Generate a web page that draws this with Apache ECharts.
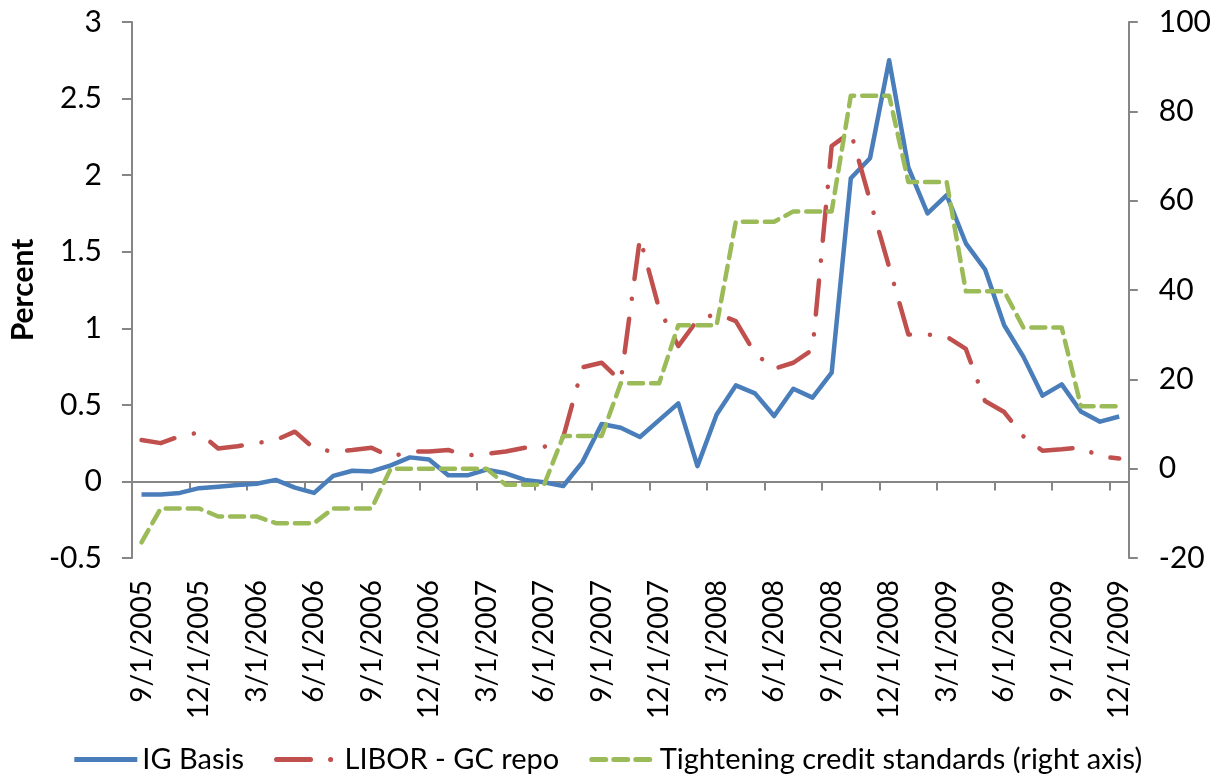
<!DOCTYPE html>
<html>
<head>
<meta charset="utf-8">
<script src="https://cdn.jsdelivr.net/npm/echarts@6/dist/echarts.min.js"></script>
<style>
  html, body { margin: 0; padding: 0; background: #fff; }
  #chart { width: 1214px; height: 776px; }
</style>
</head>
<body>
<div id="chart"></div>
<script>
// --- 数据 ---
const months = [
  '9/1/2005', '10/1/2005', '11/1/2005', '12/1/2005',
  '1/1/2006', '2/1/2006', '3/1/2006', '4/1/2006', '5/1/2006', '6/1/2006',
  '7/1/2006', '8/1/2006', '9/1/2006', '10/1/2006', '11/1/2006', '12/1/2006',
  '1/1/2007', '2/1/2007', '3/1/2007', '4/1/2007', '5/1/2007', '6/1/2007',
  '7/1/2007', '8/1/2007', '9/1/2007', '10/1/2007', '11/1/2007', '12/1/2007',
  '1/1/2008', '2/1/2008', '3/1/2008', '4/1/2008', '5/1/2008', '6/1/2008',
  '7/1/2008', '8/1/2008', '9/1/2008', '10/1/2008', '11/1/2008', '12/1/2008',
  '1/1/2009', '2/1/2009', '3/1/2009', '4/1/2009', '5/1/2009', '6/1/2009',
  '7/1/2009', '8/1/2009', '9/1/2009', '10/1/2009', '11/1/2009', '12/1/2009'
];

const igBasis = [
  -0.085, -0.085, -0.075, -0.044, -0.034, -0.024, -0.015, 0.01, -0.04, -0.075,
  0.036, 0.07, 0.065, 0.105, 0.157, 0.143, 0.04, 0.04, 0.077, 0.053,
  0.01, -0.005, -0.03, 0.126, 0.375, 0.35, 0.29, 0.40, 0.51, 0.10,
  0.437, 0.627, 0.575, 0.427, 0.605, 0.547, 0.71, 1.98, 2.11, 2.75,
  2.05, 1.75, 1.87, 1.555, 1.385, 1.02, 0.815, 0.56, 0.634, 0.457,
  0.39, 0.424
];

const liborGc = [
  0.27, 0.25, 0.295, 0.32, 0.215, 0.23, 0.25, 0.27, 0.325, 0.215,
  0.195, 0.205, 0.22, 0.16, 0.195, 0.195, 0.205, 0.17, 0.18, 0.195,
  0.22, 0.225, 0.29, 0.745, 0.775, 0.655, 1.59, 1.128, 0.884, 1.054,
  1.095, 1.047, 0.836, 0.736, 0.775, 0.86, 2.19, 2.28, 1.835, 1.40,
  0.96, 0.96, 0.945, 0.865, 0.525, 0.453, 0.295, 0.2, 0.21, 0.223,
  0.162, 0.15
];

const tightening = [
  -16.5, -8.9, -8.9, -8.9, -10.7, -10.7, -10.7, -12.2, -12.2, -12.2,
  -8.9, -8.9, -8.9, 0, 0, 0, 0, 0, 0, -3.6,
  -3.6, -3.6, 7.3, 7.3, 7.3, 19.1, 19.1, 19.1, 32.1, 32.1,
  32.1, 55.3, 55.3, 55.3, 57.6, 57.6, 57.6, 83.5, 83.5, 83.5,
  64.2, 64.2, 64.2, 39.7, 39.7, 39.7, 31.6, 31.6, 31.6, 14.0,
  14.0, 14.0
];

const seriesNames = ['IG Basis', 'LIBOR - GC repo', 'Tightening credit standards (right axis)'];

// --- 样式 ---
const C = { ig: '#4A7EBB', libor: '#C0504D', tight: '#9BBB59', axis: '#868686' };
const FONT = 'Lato, "Open Sans", sans-serif';
const axisLine = { show: true, lineStyle: { color: C.axis, width: 2 } };
const axisTick = { show: true, inside: false, length: 9, lineStyle: { color: C.axis, width: 2 } };
const labelStyle = { color: '#000', fontSize: 30, fontFamily: FONT };

const chart = echarts.init(document.getElementById('chart'));

chart.setOption({
  animation: false,
  backgroundColor: '#fff',
  textStyle: { fontFamily: FONT },
  grid: { left: 128, right: 82, top: 22, bottom: 218 },
  legend: {
    data: seriesNames,
    bottom: -3,
    left: 'center',
    itemWidth: 63,
    itemHeight: 14,
    itemGap: 30,
    itemStyle: { opacity: 0 },
    lineStyle: { width: 5 },
    textStyle: { color: '#000', fontSize: 29, fontFamily: FONT }
  },
  xAxis: [
    {
      // 零线处的轴线与刻度
      type: 'category', data: months, boundaryGap: true, position: 'bottom',
      axisLine: { ...axisLine, onZero: true, onZeroAxisIndex: 0 },
      axisTick: { ...axisTick, interval: 2 },
      axisLabel: { show: false },
      splitLine: { show: false }
    },
    {
      // 底部的日期标签
      type: 'category', data: months, boundaryGap: true, position: 'bottom',
      axisLine: { show: false, onZero: false },
      axisTick: { show: false },
      axisLabel: { ...labelStyle, fontSize: 28, interval: 2, rotate: 90, margin: 22 },
      splitLine: { show: false }
    }
  ],
  yAxis: [
    {
      type: 'value', position: 'left', min: -0.5, max: 3, interval: 0.5,
      name: 'Percent', nameLocation: 'middle', nameGap: 88,
      nameTextStyle: { color: '#000', fontSize: 30, fontWeight: 'bold', fontFamily: FONT },
      axisLine, axisTick: { ...axisTick, length: 10 },
      axisLabel: { ...labelStyle, margin: 30 },
      splitLine: { show: false }
    },
    {
      type: 'value', position: 'right', min: -20, max: 100, interval: 20,
      axisLine, axisTick: { ...axisTick, length: 9 },
      axisLabel: { ...labelStyle, margin: 30 },
      splitLine: { show: false }
    }
  ],
  series: [
    {
      name: seriesNames[0], type: 'line', data: igBasis, xAxisIndex: 0, yAxisIndex: 0,
      symbol: 'none', lineStyle: { color: C.ig, width: 4.5, join: 'round' },
      itemStyle: { color: C.ig }
    },
    {
      name: seriesNames[1], type: 'line', data: liborGc, xAxisIndex: 0, yAxisIndex: 0,
      symbol: 'none',
      lineStyle: { color: C.libor, width: 4.5, type: [34, 20, 0.1, 20], cap: 'round', join: 'round' },
      itemStyle: { color: C.libor }
    },
    {
      name: seriesNames[2], type: 'line', data: tightening, xAxisIndex: 0, yAxisIndex: 1,
      symbol: 'none',
      lineStyle: { color: C.tight, width: 4.5, type: [14, 8], cap: 'round', join: 'round' },
      itemStyle: { color: C.tight }
    }
  ]
});
</script>
</body>
</html>
